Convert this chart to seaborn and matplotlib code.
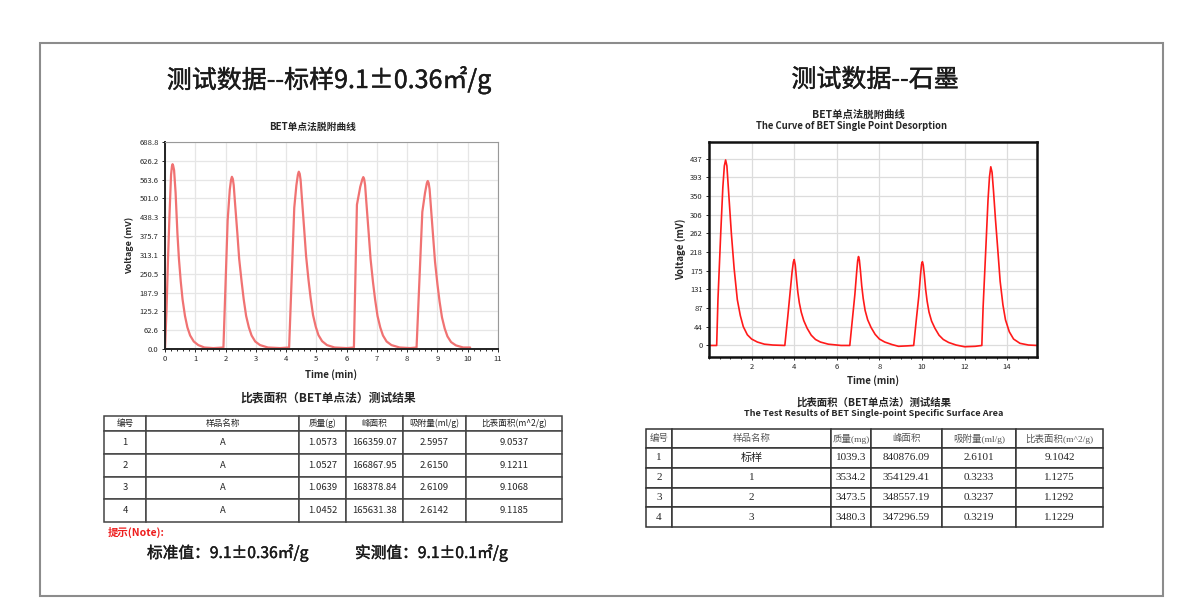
import numpy as np
import pandas as pd
import seaborn as sns
import matplotlib.pyplot as plt
import matplotlib.patheffects as pe
from matplotlib.patches import Rectangle
from matplotlib.ticker import MultipleLocator

sns.set_style("white")
plt.rcParams['font.family'] = ['Noto Sans CJK SC', 'DejaVu Sans']
plt.rcParams['axes.unicode_minus'] = False

# ---- data ----
# left chart: standard sample desorption curve (time min, voltage mV), one line per peak
t_std = [0.00, 0.05, 0.10, 0.15, 0.20, 0.23, 0.25, 0.27, 0.30, 0.35, 0.41, 0.46, 0.52, 0.58, 0.66, 0.74, 0.83, 0.95, 1.10, 1.30, 1.60, 1.93,
         2.07, 2.14, 2.18, 2.21, 2.24, 2.27, 2.31, 2.39, 2.45, 2.53, 2.60, 2.68, 2.77, 2.86, 2.98, 3.14, 3.40, 3.80, 4.10,
         4.27, 4.34, 4.39, 4.42, 4.45, 4.48, 4.52, 4.60, 4.66, 4.74, 4.81, 4.89, 4.98, 5.07, 5.19, 5.35, 5.60, 6.00, 6.24,
         6.34, 6.45, 6.52, 6.55, 6.58, 6.61, 6.65, 6.73, 6.79, 6.87, 6.94, 7.02, 7.11, 7.20, 7.32, 7.48, 7.75, 8.10, 8.31,
         8.50, 8.59, 8.65, 8.68, 8.71, 8.74, 8.78, 8.86, 8.92, 9.00, 9.07, 9.15, 9.24, 9.33, 9.45, 9.61, 9.85, 10.08]
v_std = [0, 130, 300, 450, 580, 608, 615, 610, 595, 520, 385, 300, 225, 165, 110, 72, 45, 25, 13, 5, 3, 5,
         429, 530, 562, 573, 566, 545, 490, 385, 300, 225, 165, 110, 72, 45, 25, 13, 5, 3, 5,
         470, 545, 580, 590, 583, 562, 505, 395, 310, 230, 170, 113, 74, 46, 26, 13, 5, 3, 5,
         480, 540, 565, 572, 565, 545, 490, 383, 300, 223, 165, 110, 72, 45, 25, 13, 5, 3, 5,
         456, 520, 552, 559, 552, 532, 478, 370, 290, 215, 158, 105, 68, 42, 23, 12, 5, 5]

# right chart: graphite desorption curve
t_gr = [0.00, 0.36, 0.42, 0.55, 0.65, 0.72, 0.78, 0.84, 0.92, 1.05, 1.18, 1.33, 1.47, 1.61, 1.80, 2.00, 2.27, 2.60, 3.00, 3.56,
        3.70, 3.80, 3.90, 3.96, 4.00, 4.05, 4.11, 4.17, 4.24, 4.33, 4.45, 4.61, 4.80, 5.00, 5.23, 5.60, 6.20, 6.61,
        6.75, 6.85, 6.93, 6.98, 7.02, 7.06, 7.11, 7.17, 7.24, 7.33, 7.45, 7.61, 7.80, 8.00, 8.25, 8.60, 8.90, 9.30, 9.61,
        9.75, 9.85, 9.93, 9.98, 10.02, 10.06, 10.11, 10.17, 10.24, 10.33, 10.45, 10.61, 10.80, 11.00, 11.25, 11.60, 12.00, 12.50, 12.81,
        12.87, 13.00, 13.10, 13.17, 13.23, 13.29, 13.36, 13.45, 13.55, 13.67, 13.80, 13.92, 14.10, 14.30, 14.60, 15.00, 15.40]
v_gr = [0, 0, 107, 262, 370, 420, 434, 420, 360, 262, 180, 107, 70, 44, 25, 15, 8, 3, 1, 0,
        68, 120, 172, 195, 201, 188, 155, 125, 100, 78, 58, 40, 24, 14, 8, 3, 0, 0,
        70, 120, 170, 198, 208, 200, 175, 140, 110, 82, 60, 42, 26, 15, 8, 2, -2, -1, 0,
        68, 115, 165, 190, 196, 188, 165, 132, 104, 78, 57, 40, 24, 14, 7, 1, -3, -2, 0,
        90, 230, 340, 395, 418, 405, 360, 295, 230, 150, 95, 60, 32, 15, 5, 1, 0]

std_yticks = [0.0, 62.6, 125.2, 187.9, 250.5, 313.1, 375.7, 438.3, 501.0, 563.6, 626.2, 688.8]
gr_yticks = [0, 43.7, 87.4, 131.1, 174.8, 218.5, 262.2, 305.9, 349.6, 393.3, 437]
gr_ylabels = ['0', '44', '87', '131', '175', '218', '262', '306', '350', '393', '437']

cols_std = ['编号', '样品名称', '质量(g)', '峰面积', '吸附量(ml/g)', '比表面积(m^2/g)']
rows_std = [['1', 'A', '1.0573', '166359.07', '2.5957', '9.0537'],
            ['2', 'A', '1.0527', '166867.95', '2.6150', '9.1211'],
            ['3', 'A', '1.0639', '168378.84', '2.6109', '9.1068'],
            ['4', 'A', '1.0452', '165631.38', '2.6142', '9.1185']]
cols_gr = ['编号', '样品名称', '质量(mg)', '峰面积', '吸附量(ml/g)', '比表面积(m^2/g)']
rows_gr = [['1', '标样', '1039.3', '840876.09', '2.6101', '9.1042'],
           ['2', '1', '3534.2', '354129.41', '0.3233', '1.1275'],
           ['3', '2', '3473.5', '348557.19', '0.3237', '1.1292'],
           ['4', '3', '3480.3', '347296.59', '0.3219', '1.1229']]

W, H = 1200, 609
fig = plt.figure(figsize=(12, 6.09), dpi=100)

# regular weight plus a thin outline reads like the medium weight of the original
medium = [pe.withStroke(linewidth=0.3, foreground='#1a1a1a')]


def box(x0, y0, x1, y1):
    return [x0 / W, 1 - y1 / H, (x1 - x0) / W, (y1 - y0) / H]


def ftext(x, y, s, **kw):
    fig.text(x / W, 1 - y / H, s, **kw)


fig.add_artist(Rectangle((40 / W, 1 - 596 / H), 1123 / W, 553 / H, fill=False,
                         ec='#8c8c8c', lw=1.5, transform=fig.transFigure))

ftext(329, 80, '测试数据--标样9.1±0.36㎡/g', ha='center', va='center', fontsize=18,
      color='#1a1a1a', path_effects=medium)
ftext(875, 80, '测试数据--石墨', ha='center', va='center', fontsize=18,
      color='#1a1a1a', path_effects=medium)

# ---- left chart ----
ax1 = fig.add_axes(box(165, 142, 498, 349))
df1 = pd.DataFrame({'t': t_std, 'v': v_std})
sns.lineplot(data=df1, x='t', y='v', ax=ax1, color='#f07272', lw=1.6, estimator=None, sort=False)
ax1.set_xlim(0, 11)
ax1.set_ylim(0, 688.8)
ax1.set_xticks(range(12))
ax1.set_yticks(std_yticks)
ax1.set_yticklabels([f'{v:.1f}' for v in std_yticks])
ax1.xaxis.set_minor_locator(MultipleLocator(0.2))
ax1.grid(True, color='#e6e6e6', lw=0.9)
ax1.tick_params(which='both', direction='out', labelsize=5.5, length=2.5, width=0.7, pad=2,
                bottom=True, left=True)
ax1.tick_params(which='minor', length=1.5)
for s in ['left', 'bottom']:
    ax1.spines[s].set_color('#222222')
    ax1.spines[s].set_linewidth(1.4)
for s in ['top', 'right']:
    ax1.spines[s].set_color('#999999')
    ax1.spines[s].set_linewidth(0.8)
ax1.set_xlabel('Time (min)', fontsize=7, weight='bold', labelpad=4)
ax1.set_ylabel('Voltage (mV)', fontsize=6.5, weight='bold', labelpad=4)
ftext(313, 127, 'BET单点法脱附曲线', ha='center', va='center', fontsize=7, weight='bold')

# ---- right chart ----
ax2 = fig.add_axes(box(709, 142, 1037, 357))
df2 = pd.DataFrame({'t': t_gr, 'v': v_gr})
sns.lineplot(data=df2, x='t', y='v', ax=ax2, color='#ff1a1a', lw=1.2, estimator=None, sort=False)
ax2.set_xlim(0, 15.4)
ax2.set_ylim(-27, 476)
ax2.set_xticks(range(2, 16, 2))
ax2.set_yticks(gr_yticks)
ax2.set_yticklabels(gr_ylabels)
ax2.xaxis.set_minor_locator(MultipleLocator(0.5))
ax2.grid(True, color='#dcdcdc', lw=0.9)
ax2.tick_params(which='both', direction='out', labelsize=5.5, length=2.5, width=0.7, pad=2,
                bottom=True, left=True)
ax2.tick_params(which='minor', length=1.5)
for s in ax2.spines.values():
    s.set_color('#111111')
    s.set_linewidth(1.8)
ax2.set_xlabel('Time (min)', fontsize=7, weight='bold', labelpad=3)
ax2.set_ylabel('Voltage (mV)', fontsize=7, weight='bold', labelpad=3)
ftext(858, 115, 'BET单点法脱附曲线', ha='center', va='center', fontsize=7.5, weight='bold')
ftext(852, 126, 'The Curve of BET Single Point Desorption', ha='center', va='center',
      fontsize=6.8, weight='bold')


# ---- tables ----
def draw_table(rect, cols, rows, widths, head_h, row_h, fs, head_fs, family, edge, head_color):
    ax = fig.add_axes(box(*rect))
    ax.axis('off')
    tb = ax.table(cellText=rows, colLabels=cols, colWidths=widths, cellLoc='center',
                  bbox=[0, 0, 1, 1])
    tb.auto_set_font_size(False)
    for (r, c), cell in tb.get_celld().items():
        cell.set_edgecolor(edge)
        cell.set_linewidth(1.1)
        cell.set_height(head_h if r == 0 else row_h)
        txt = cell.get_text()
        txt.set_family(family)
        if r == 0:
            txt.set_fontsize(head_fs)
            txt.set_color(head_color)
        else:
            txt.set_fontsize(fs)
    return ax


ftext(328, 398, '比表面积（BET单点法）测试结果', ha='center', va='center', fontsize=8.5, weight='bold')
draw_table((104, 416, 562, 522), cols_std, rows_std, [42, 153, 47, 57, 63, 96],
           15, 22.75, 6.8, 6.2, ['Noto Sans CJK SC', 'DejaVu Sans'], '#444444', '#222222')
ftext(108, 532, '提示(Note):', ha='left', va='center', fontsize=7.5, weight='bold', color='#ee1c1c')
ftext(147, 553, '标准值：9.1±0.36㎡/g', ha='left', va='center', fontsize=11.3,
      color='#1a1a1a', path_effects=medium)
ftext(355, 553, '实测值：9.1±0.1㎡/g', ha='left', va='center', fontsize=11.3,
      color='#1a1a1a', path_effects=medium)

ftext(874, 403, '比表面积（BET单点法）测试结果', ha='center', va='center', fontsize=7.5, weight='bold')
ftext(874, 414, 'The Test Results of BET Single-point Specific Surface Area', ha='center', va='center',
      fontsize=6.6, weight='bold')
draw_table((646, 429, 1103, 527), cols_gr, rows_gr, [26, 159, 40, 71, 74, 87],
           19, 19.75, 8, 6.8, ['Liberation Serif', 'Noto Sans CJK SC'], '#333333', '#555555')

fig.savefig('out.png', dpi=100, facecolor='white')
